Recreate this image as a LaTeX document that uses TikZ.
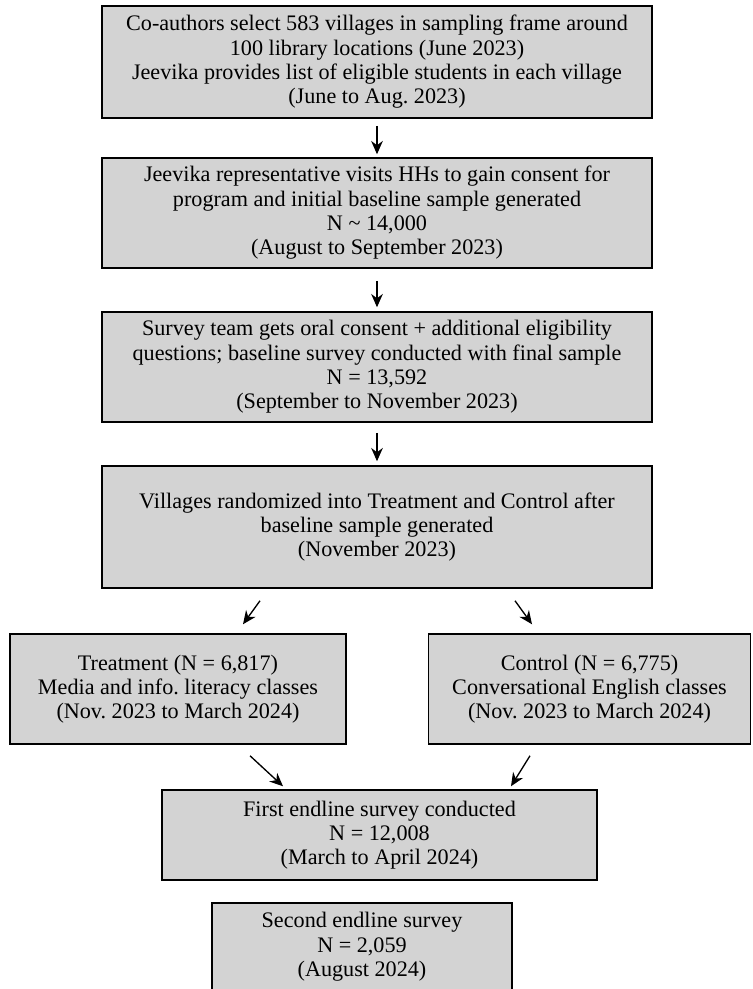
\documentclass[tikz,border=0pt]{standalone}
\usepackage{fontspec}
\setmainfont{Liberation Serif}
\usetikzlibrary{arrows.meta,calc}
\definecolor{boxgray}{RGB}{211,211,211}
\tikzset{
  stepbox/.style={draw=black, line width=0.9pt, fill=boxgray, align=center,
    font=\fontsize{13.3}{14.6}\selectfont\frenchspacing, inner sep=0pt},
  arr/.style={-{Stealth[length=8pt,width=7pt]}, line width=0.8pt}
}
\begin{document}
\begin{tikzpicture}[x=0.6pt,y=-0.6pt]
\useasboundingbox (0,0) rectangle (752,989);
\node[stepbox, minimum width=550*0.6pt, minimum height=112*0.6pt] (b1) at (377,62)
  {Co-authors select 583 villages in sampling frame around\\100 library locations (June 2023)\\Jeevika provides list of eligible students in each village\\(June to Aug. 2023)};
\node[stepbox, minimum width=550*0.6pt, minimum height=110*0.6pt] (b2) at (377,213)
  {Jeevika representative visits HHs to gain consent for\\program and initial baseline sample generated\\N \textasciitilde{} 14,000\\(August to September 2023)};
\node[stepbox, minimum width=550*0.6pt, minimum height=110*0.6pt] (b3) at (377,367)
  {Survey team gets oral consent + additional eligibility\\questions; baseline survey conducted with final sample\\N = 13,592\\(September to November 2023)};
\node[stepbox, minimum width=550*0.6pt, minimum height=122*0.6pt] (b4) at (377,527)
  {Villages randomized into Treatment and Control after\\baseline sample generated\\(November 2023)};
\node[stepbox, minimum width=336*0.6pt, minimum height=110*0.6pt] (treat) at (178,689)
  {Treatment (N = 6,817)\\Media and info. literacy classes\\(Nov. 2023 to March 2024)};
\node[stepbox, minimum width=322*0.6pt, minimum height=110*0.6pt] (ctrl) at (589.5,689)
  {Control (N = 6,775)\\Conversational English classes\\(Nov. 2023 to March 2024)};
\node[stepbox, minimum width=435*0.6pt, minimum height=90*0.6pt] (end1) at (379.5,835)
  {First endline survey conducted\\N = 12,008\\(March to April 2024)};
\node[stepbox, minimum width=300*0.6pt, minimum height=88*0.6pt] (end2) at (362,947)
  {Second endline survey\\N = 2,059\\(August 2024)};
\draw[arr] ($(b1.south)+(0,7)$) -- ($(b2.north)+(0,-3)$);
\draw[arr] ($(b2.south)+(0,12)$) -- ($(b3.north)+(0,-4)$);
\draw[arr] ($(b3.south)+(0,10)$) -- ($(b4.north)+(0,-4)$);
\draw[arr] ($(b4.south)+(-117,12)$) -- ($(treat.north)+(65,-9)$);
\draw[arr] ($(b4.south)+(138,12)$) -- ($(ctrl.north)+(-57.5,-9)$);
\draw[arr] ($(treat.south)+(72,11)$) -- ($(end1.north)+(-96.5,-3)$);
\draw[arr] ($(ctrl.south)+(-59.5,11)$) -- ($(end1.north)+(131.5,-3)$);
\end{tikzpicture}
\end{document}
